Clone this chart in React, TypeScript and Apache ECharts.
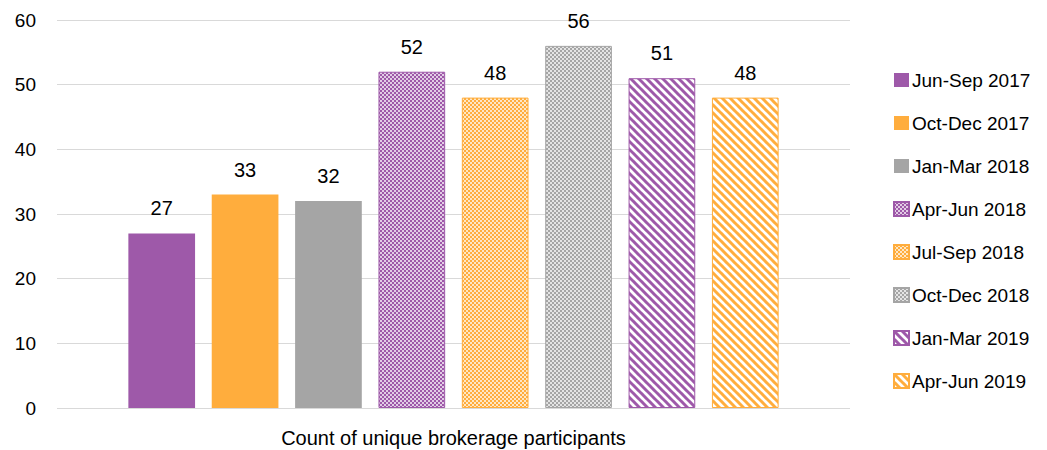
import React, { useEffect, useRef } from "react";
import * as echarts from "echarts";

const category = ["Count of unique brokerage participants"];
const seriesNames = [
  "Jun-Sep 2017",
  "Oct-Dec 2017",
  "Jan-Mar 2018",
  "Apr-Jun 2018",
  "Jul-Sep 2018",
  "Oct-Dec 2018",
  "Jan-Mar 2019",
  "Apr-Jun 2019",
];
const seriesValues = [27, 33, 32, 52, 48, 56, 51, 48];
const yTicks = [0, 10, 20, 30, 40, 50, 60];

const PURPLE = "#9E59A9";
const ORANGE = "#FFAD3D";
const GRAY = "#A5A5A5";
const baseColors = [PURPLE, ORANGE, GRAY, PURPLE, ORANGE, GRAY, PURPLE, ORANGE];
const fillKinds = ["solid", "solid", "solid", "check", "check", "check", "stripe", "stripe"];

function makePattern(color: string, kind: string): any {
  if (kind === "solid") return color;
  const c = document.createElement("canvas");
  if (kind === "check") {
    c.width = 4;
    c.height = 4;
    const ctx = c.getContext("2d")!;
    ctx.fillStyle = color;
    ctx.fillRect(0, 0, 4, 4);
    ctx.fillStyle = "#ffffff";
    ctx.globalAlpha = 0.7;
    ctx.fillRect(0, 0, 2, 2);
    ctx.fillRect(2, 2, 2, 2);
    return { image: c, repeat: "repeat", imageWidth: 4, imageHeight: 4 };
  }
  const s = 8;
  c.width = s;
  c.height = s;
  const ctx = c.getContext("2d")!;
  ctx.fillStyle = "#ffffff";
  ctx.fillRect(0, 0, s, s);
  ctx.strokeStyle = color;
  ctx.lineWidth = 3;
  for (let k = -1; k <= 1; k++) {
    ctx.beginPath();
    ctx.moveTo(k * s - 1, -1);
    ctx.lineTo(k * s + s + 1, s + 1);
    ctx.stroke();
  }
  return { image: c, repeat: "repeat", imageWidth: s, imageHeight: s };
}

export default function App() {
  const ref = useRef<HTMLDivElement>(null);
  useEffect(() => {
    if (!ref.current) return;
    const chart = echarts.init(ref.current, undefined, { renderer: "svg" });
    const font = "'Liberation Sans', Arial, sans-serif";
    const series = seriesNames.map((name, i) => ({
      name,
      type: "bar",
      data: [seriesValues[i]],
      barGap: "25%",
      barCategoryGap: "18%",
      itemStyle: {
        color: makePattern(baseColors[i], fillKinds[i]),
        borderColor: baseColors[i],
        borderWidth: fillKinds[i] === "solid" ? 0 : 1,
      },
      label: {
        show: true,
        position: "top",
        distance: 15,
        color: "#000",
        fontSize: 20,
        fontFamily: font,
      },
    }));
    chart.setOption({
      animation: false,
      textStyle: { fontFamily: font },
      grid: { left: 57, right: 197, top: 20, bottom: 42 },
      legend: {
        orient: "vertical",
        left: 888,
        top: 65,
        itemWidth: 15,
        itemHeight: 14,
        itemGap: 23,
        icon: "rect",
        textStyle: { fontSize: 19, color: "#000", fontFamily: font, lineHeight: 20, padding: [0, 0, 0, -2] },
        data: seriesNames,
      },
      xAxis: {
        type: "category",
        data: category,
        axisLine: { show: false },
        axisTick: { show: false },
        axisLabel: { color: "#000", fontSize: 20, margin: 20, fontFamily: font },
      },
      yAxis: {
        type: "value",
        min: yTicks[0],
        max: yTicks[yTicks.length - 1],
        interval: 10,
        axisLine: { show: false },
        axisTick: { show: false },
        axisLabel: { color: "#000", fontSize: 19, margin: 21, fontFamily: font },
        splitLine: { lineStyle: { color: "#D9D9D9", width: 1 } },
      },
      series,
    });
    return () => chart.dispose();
  }, []);
  return (
    <div
      ref={ref}
      style={{ position: "fixed", left: 0, top: 0, width: 1047, height: 450, background: "#fff" }}
    />
  );
}
